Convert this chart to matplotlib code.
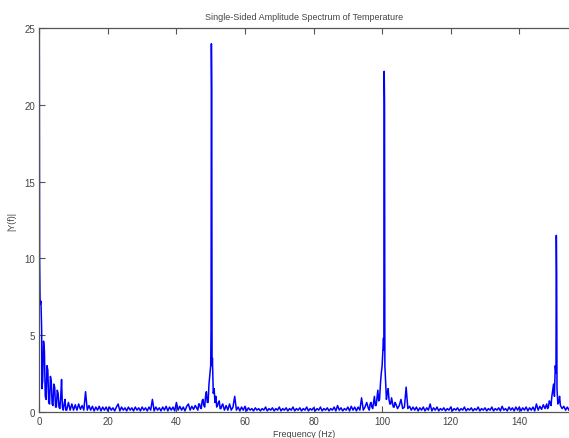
import matplotlib
matplotlib.use('Agg')
import matplotlib.pyplot as plt
import numpy as np

plt.rcParams['font.family'] = ['Liberation Sans', 'DejaVu Sans']

# amplitude, one value every 0.5 Hz from 0 to 154.5 Hz
amp_0_10 = [26.0, 7.2, 2.0, 4.0, 0.8, 2.7, 0.5, 2.0, 0.4, 1.6, 0.3, 1.2, 0.2, 2.1, 0.1, 0.8, 0.1, 0.6, 0.1, 0.5]
amp_10_20 = [0.1, 0.45, 0.1, 0.5, 0.15, 0.4, 0.1, 1.3, 0.1, 0.4, 0.1, 0.35, 0.05, 0.3, 0.1, 0.35, 0.05, 0.3, 0.1, 0.3]
amp_20_30 = [0.05, 0.3, 0.1, 0.25, 0.05, 0.3, 0.5, 0.05, 0.3, 0.1, 0.25, 0.05, 0.3, 0.1, 0.25, 0.05, 0.3, 0.1, 0.25, 0.05]
amp_30_40 = [0.3, 0.1, 0.25, 0.05, 0.3, 0.1, 0.8, 0.05, 0.3, 0.1, 0.25, 0.05, 0.3, 0.1, 0.35, 0.05, 0.3, 0.1, 0.3, 0.05]
amp_40_50 = [0.6, 0.1, 0.35, 0.1, 0.3, 0.05, 0.35, 0.5, 0.1, 0.35, 0.15, 0.4, 0.2, 0.5, 0.25, 0.7, 0.4, 1.0, 0.6, 1.8]
amp_50_60 = [3.0, 3.5, 1.5, 1.0, 0.4, 0.7, 0.2, 0.5, 0.1, 0.4, 0.1, 0.5, 0.1, 0.3, 1.0, 0.1, 0.3, 0.05, 0.3, 0.1]
amp_60_70 = [0.35, 0.05, 0.25, 0.1, 0.2, 0.05, 0.25, 0.1, 0.2, 0.05, 0.2, 0.1, 0.3, 0.05, 0.2, 0.1, 0.25, 0.05, 0.2, 0.1]
amp_70_80 = [0.3, 0.05, 0.2, 0.1, 0.25, 0.05, 0.2, 0.1, 0.3, 0.05, 0.2, 0.1, 0.25, 0.05, 0.2, 0.1, 0.3, 0.05, 0.2, 0.1]
amp_80_90 = [0.25, 0.05, 0.2, 0.1, 0.3, 0.05, 0.2, 0.1, 0.25, 0.05, 0.2, 0.1, 0.3, 0.05, 0.4, 0.1, 0.25, 0.05, 0.2, 0.1]
amp_90_100 = [0.3, 0.05, 0.35, 0.1, 0.3, 0.05, 0.3, 0.1, 0.9, 0.1, 0.3, 0.6, 0.2, 0.5, 0.3, 0.6, 0.4, 0.9, 0.7, 1.8]
amp_100_110 = [3.0, 4.0, 2.0, 1.2, 0.8, 0.5, 0.6, 0.3, 0.5, 0.2, 0.4, 0.8, 0.2, 0.3, 1.6, 0.2, 0.35, 0.1, 0.3, 0.1]
amp_110_120 = [0.3, 0.05, 0.25, 0.1, 0.3, 0.05, 0.25, 0.1, 0.5, 0.05, 0.25, 0.1, 0.3, 0.05, 0.2, 0.1, 0.25, 0.05, 0.2, 0.1]
amp_120_130 = [0.3, 0.05, 0.2, 0.1, 0.25, 0.05, 0.2, 0.1, 0.3, 0.05, 0.2, 0.1, 0.25, 0.05, 0.2, 0.1, 0.3, 0.05, 0.2, 0.1]
amp_130_140 = [0.25, 0.05, 0.2, 0.1, 0.3, 0.05, 0.2, 0.1, 0.25, 0.05, 0.35, 0.1, 0.2, 0.05, 0.3, 0.1, 0.25, 0.05, 0.3, 0.1]
amp_140_150 = [0.3, 0.05, 0.25, 0.1, 0.3, 0.05, 0.25, 0.1, 0.3, 0.05, 0.5, 0.1, 0.35, 0.15, 0.45, 0.2, 0.5, 0.3, 0.6, 1.0]
amp_150_155 = [1.8, 3.0, 1.5, 0.6, 0.4, 0.2, 0.35, 0.1, 0.3, 0.1]

# extra points on the steep parts (0 Hz drop and the 50/100/150 Hz lines)
detail_freq = [0.1, 0.25, 0.7, 0.75, 1.25, 1.75, 2.25, 2.75, 3.25, 3.75, 4.25, 4.75,
               5.25, 5.75, 6.25, 6.75, 7.25, 7.75,
               46.25, 46.75, 47.25, 47.75, 48.25, 48.75, 49.25, 49.75,
               50.1, 50.2, 50.3, 50.4, 50.75, 51.25, 51.75, 52.25, 52.75, 53.25,
               96.25, 96.75, 97.25, 97.75, 98.25, 98.75, 99.25, 99.75,
               100.4, 100.6, 100.7, 100.8, 101.25, 101.75, 102.25, 102.75, 103.25, 103.75,
               148.25, 148.75, 149.25, 149.75, 150.25,
               150.7, 150.8, 150.9, 151.25, 151.75, 152.25]
detail_amp = [10.0, 7.0, 5.3, 1.5, 4.6, 1.0, 3.0, 0.6, 2.3, 0.5, 1.8, 0.3,
              1.4, 0.3, 0.9, 0.3, 0.5, 0.1,
              0.1, 0.5, 0.2, 0.8, 0.3, 1.3, 0.6, 2.4,
              5.4, 24.0, 21.0, 3.0, 1.2, 0.6, 0.3, 0.6, 0.2, 0.4,
              0.1, 0.6, 0.2, 1.0, 0.4, 1.4, 0.8, 2.5,
              4.8, 22.2, 20.2, 3.0, 0.8, 1.5, 0.5, 0.9, 0.3, 0.6,
              0.2, 0.7, 0.4, 1.4, 1.0,
              2.5, 11.5, 9.2, 0.5, 1.0, 0.3]

amp = (amp_0_10 + amp_10_20 + amp_20_30 + amp_30_40 + amp_40_50 + amp_50_60
       + amp_60_70 + amp_70_80 + amp_80_90 + amp_90_100 + amp_100_110
       + amp_110_120 + amp_120_130 + amp_130_140 + amp_140_150 + amp_150_155)
freq = list(np.arange(len(amp)) * 0.5)

f_all = np.array(freq + detail_freq)
a_all = np.array(amp + detail_amp)
order = np.argsort(f_all, kind='stable')
f_all = f_all[order]
a_all = a_all[order]

txt = '#444444'
edge = '#555555'

fig = plt.figure(figsize=(5.69, 4.39), dpi=100, facecolor='w')
ax = fig.add_axes([0.069, 0.060, 0.931, 0.873])
ax.plot(f_all, a_all, color=(0, 0, 1), lw=1.1)

ax.set_xlim(0, 154.5)
ax.set_ylim(0, 25)
ax.set_xticks([0, 20, 40, 60, 80, 100, 120, 140])
ax.set_yticks([0, 5, 10, 15, 20, 25])
ax.tick_params(direction='in', length=4, width=0.8, colors=edge, labelcolor=txt,
               labelsize=7, top=True, right=False, pad=3)
for side in ['left', 'bottom', 'top']:
    ax.spines[side].set_color(edge)
    ax.spines[side].set_linewidth(0.9)
ax.spines['right'].set_visible(False)

ax.set_title('Single-Sided Amplitude Spectrum of Temperature', fontsize=6.5, color=txt, pad=7)
ax.set_xlabel('Frequency (Hz)', fontsize=6.5, color=txt, labelpad=2)
ax.set_ylabel('|Y(f)|', fontsize=6.5, color=txt, labelpad=6)

plt.savefig('out.png', dpi=100, facecolor='w')
